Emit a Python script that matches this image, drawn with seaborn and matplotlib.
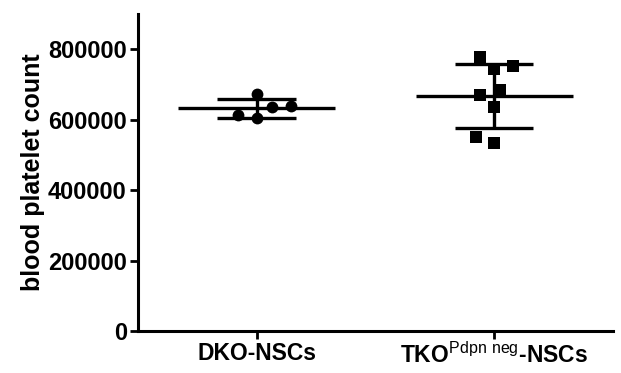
import numpy as np
import pandas as pd
import matplotlib
matplotlib.use("Agg")
import matplotlib.pyplot as plt
import seaborn as sns

# valeurs
groups = ["DKO-NSCs", "TKO$^{\\mathrm{Pdpn\\ neg}}$-NSCs"]
dko_counts = [635000, 672000, 604000, 613000, 638000]
tko_counts = [777000, 743000, 752000, 669000, 684000, 635000, 550000, 533000]
y_ticks = [0, 200000, 400000, 600000, 800000]

df = pd.DataFrame({
    "group": [groups[0]] * len(dko_counts) + [groups[1]] * len(tko_counts),
    "count": dko_counts + tko_counts,
})

sns.set_style("ticks")
plt.rcParams["font.family"] = ["Liberation Sans", "DejaVu Sans"]
plt.rcParams["mathtext.fontset"] = "custom"
plt.rcParams["mathtext.rm"] = "Liberation Sans"
for key in ["text.color", "axes.labelcolor", "xtick.color", "ytick.color"]:
    plt.rcParams[key] = "black"

fig = plt.figure(figsize=(6.21, 3.73), dpi=100)
ax = fig.add_axes([0.222, 0.1126, 0.765, 0.85])

# moyenne +/- écart type
stats = df.groupby("group", sort=False)["count"].agg(["mean", "std"]).reindex(groups)
pos = np.arange(len(groups))
ax.hlines(stats["mean"], pos - 0.33, pos + 0.33, color="black", lw=2.4, zorder=2)
ax.hlines(stats["mean"] + stats["std"], pos - 0.165, pos + 0.165, color="black", lw=2.4, zorder=2)
ax.hlines(stats["mean"] - stats["std"], pos - 0.165, pos + 0.165, color="black", lw=2.4, zorder=2)
ax.vlines(pos, stats["mean"] - stats["std"], stats["mean"] + stats["std"], color="black", lw=2.4, zorder=2)

# swarm plus large que les marqueurs (comme GraphPad)
sns.swarmplot(data=df[df["group"] == groups[0]], x="group", y="count", order=groups,
              color="black", marker="o", size=13, ax=ax, zorder=3)
sns.swarmplot(data=df[df["group"] == groups[1]], x="group", y="count", order=groups,
              color="black", marker="s", size=13, ax=ax, zorder=3)

ax.set_xlim(-0.5, 1.5)
ax.set_ylim(0, 900000)
ax.set_yticks(y_ticks)
ax.set_yticklabels([str(v) for v in y_ticks], fontsize=17, fontweight="bold")
ax.set_xticks(pos)
ax.set_xticklabels(groups, fontsize=16.5, fontweight="bold")
ax.set_xlabel("")
ax.set_ylabel("blood platelet count", fontsize=18, fontweight="bold", labelpad=2)
ax.tick_params(axis="both", width=2, length=6, color="black", pad=2)
for side in ["top", "right"]:
    ax.spines[side].set_visible(False)
for side in ["left", "bottom"]:
    ax.spines[side].set_linewidth(2.2)
    ax.spines[side].set_color("black")

# fixer les positions du swarm puis réduire les marqueurs
fig.canvas.draw()
for coll in ax.collections:
    if "draw" in coll.__dict__:
        del coll.draw
    if len(coll.get_offsets()) > 1 and coll.get_sizes()[0] > 100:
        coll.set_sizes([8.5 ** 2])

fig.savefig("out.png", dpi=100)
